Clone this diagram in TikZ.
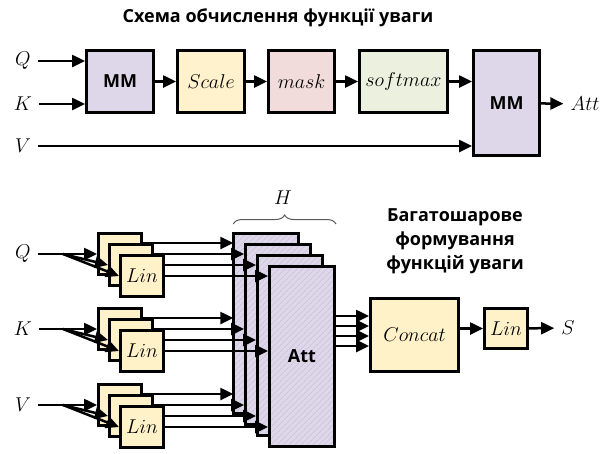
\RequirePackage{fix-cm}
\documentclass[tikz,border=0pt]{standalone}
\usepackage{fontspec}
\newfontfamily\headfont{Open Sans}
\usetikzlibrary{arrows.meta,positioning,calc,patterns.meta,decorations.pathreplacing}

\definecolor{mmfill}{RGB}{221,215,233}
\definecolor{scalefill}{RGB}{255,242,204}
\definecolor{maskfill}{RGB}{242,220,219}
\definecolor{softfill}{RGB}{235,241,222}
\definecolor{linfill}{RGB}{255,241,200}
\definecolor{hatch}{RGB}{196,186,214}

\tikzset{
  blk/.style={draw, line width=3pt, inner sep=0pt, align=center},
  arr/.style={line width=2.5pt, -{Triangle[length=13pt,width=12pt]}},
  lbl/.style={inner sep=7pt, font=\fontsize{20}{24}\selectfont},
  bold/.style={font=\headfont\bfseries\fontsize{18}{24}\selectfont},
}

\begin{document}
\begin{tikzpicture}[x=1pt, y=-1pt]
    \useasboundingbox (0,0) rectangle (608,453);

    % Attention function
    \node[bold] (title1) at (278,18) {Схема обчислення функції уваги};
    \foreach \n/\y/\p in {q/61/Q, k/104/K, v/146/V} {
        \node[lbl] (\n) at (23,\y) {$\p$};
    }
    \node[blk, bold, fill=mmfill, minimum width=67pt, minimum height=62pt] (mm1) at (120,81.5) {MM};
    \node[blk, lbl, inner sep=0pt, fill=scalefill, minimum width=67pt, minimum height=62pt] (scale) at (211,81.5) {$Scale$};
    \node[blk, lbl, inner sep=0pt, fill=maskfill, minimum width=66pt, minimum height=62pt] (mask) at (301.5,81.5) {$mask$};
    \node[blk, lbl, inner sep=0pt, fill=softfill, minimum width=88pt, minimum height=62pt] (soft) at (403.5,81.5) {$softmax$};
    \node[blk, bold, fill=mmfill, minimum width=66pt, minimum height=105pt] (mm2) at (506.5,103) {MM};
    \node[lbl] (att) at (585,104) {$Att$};

    \draw[arr] (q) -- (q -| mm1.west);
    \draw[arr] (k) -- (k -| mm1.west);
    \draw[arr] (v) -- (v -| mm2.west);
    \draw[arr] (mm1) -- (scale);
    \draw[arr] (scale) -- (mask);
    \draw[arr] (mask) -- (soft);
    \draw[arr] (soft.east) -- (soft.east -| mm2.west);
    \draw[arr] (mm2) -- (att);

    % Multi-head attention
    \node[bold, align=center] (title2) at (455,241) {Багатошарове\\формування\\функцій уваги};
    \node[lbl] (hh) at (283,198) {$H$};

    \node[blk, fill=linfill, minimum width=88pt, minimum height=73pt] (concat) at (414.5,335) {\fontsize{20}{24}\selectfont$Concat$};
    \node[blk, fill=linfill, minimum width=43pt, minimum height=40pt] (lin) at (506,328.5) {\fontsize{20}{24}\selectfont$Lin$};
    \node[lbl] (s) at (568,328) {$S$};

    % heads into concat (hidden behind the front head)
    \foreach \h in {0,...,3} {
        \pgfmathsetmacro\yc{316+10*\h}
        \draw[arr] (266+12*\h,\yc) coordinate (o\h) -- (concat.west |- o\h);
    }
    \foreach \h in {0,...,3} {
        \node[blk, minimum width=65pt, minimum height=180pt,
              preaction={fill=mmfill}, pattern={Lines[angle=45,distance=4pt,line width=0.5pt]},
              pattern color=hatch] (att\h) at (266+12*\h,323.5+11*\h) {};
    }
    \node[bold] (attlbl) at (att3) {Att};
    \draw[gray!70!black, line width=1pt, decorate, decoration={brace, amplitude=9pt}]
        (att0.north west |- 0,224) -- (att3.north east |- 0,224);

    % inputs, projections
    \foreach \g/\y/\p in {q/254/Q, k/329/K, v/405/V} {
        \node[lbl] (b\g) at (23,\y) {$\p$};
        \coordinate (f\g) at (63,\y);
        \foreach \h in {0,...,3} {
            \pgfmathsetmacro\ya{\y-11+11*\h}
            \draw[arr] (130,\ya) coordinate (s\g\h) -- (att\h.west |- s\g\h);
        }
        \foreach \j in {0,1,2} {
            \node[blk, fill=linfill, minimum width=43pt, minimum height=41pt] (l\g\j) at (120+11*\j,\y+11*\j) {};
        }
        \node[font=\fontsize{20}{24}\selectfont] at (l\g2) {$Lin$};
        \draw[line width=2.5pt] (b\g) -- (f\g);
        \foreach \j in {0,1,2} {
            \draw[arr] (f\g) -- (l\g\j.west);
        }
    }
    \draw[arr] (concat.east |- lin.west) -- (lin.west);
    \draw[arr] (lin) -- (s);
\end{tikzpicture}
\end{document}
